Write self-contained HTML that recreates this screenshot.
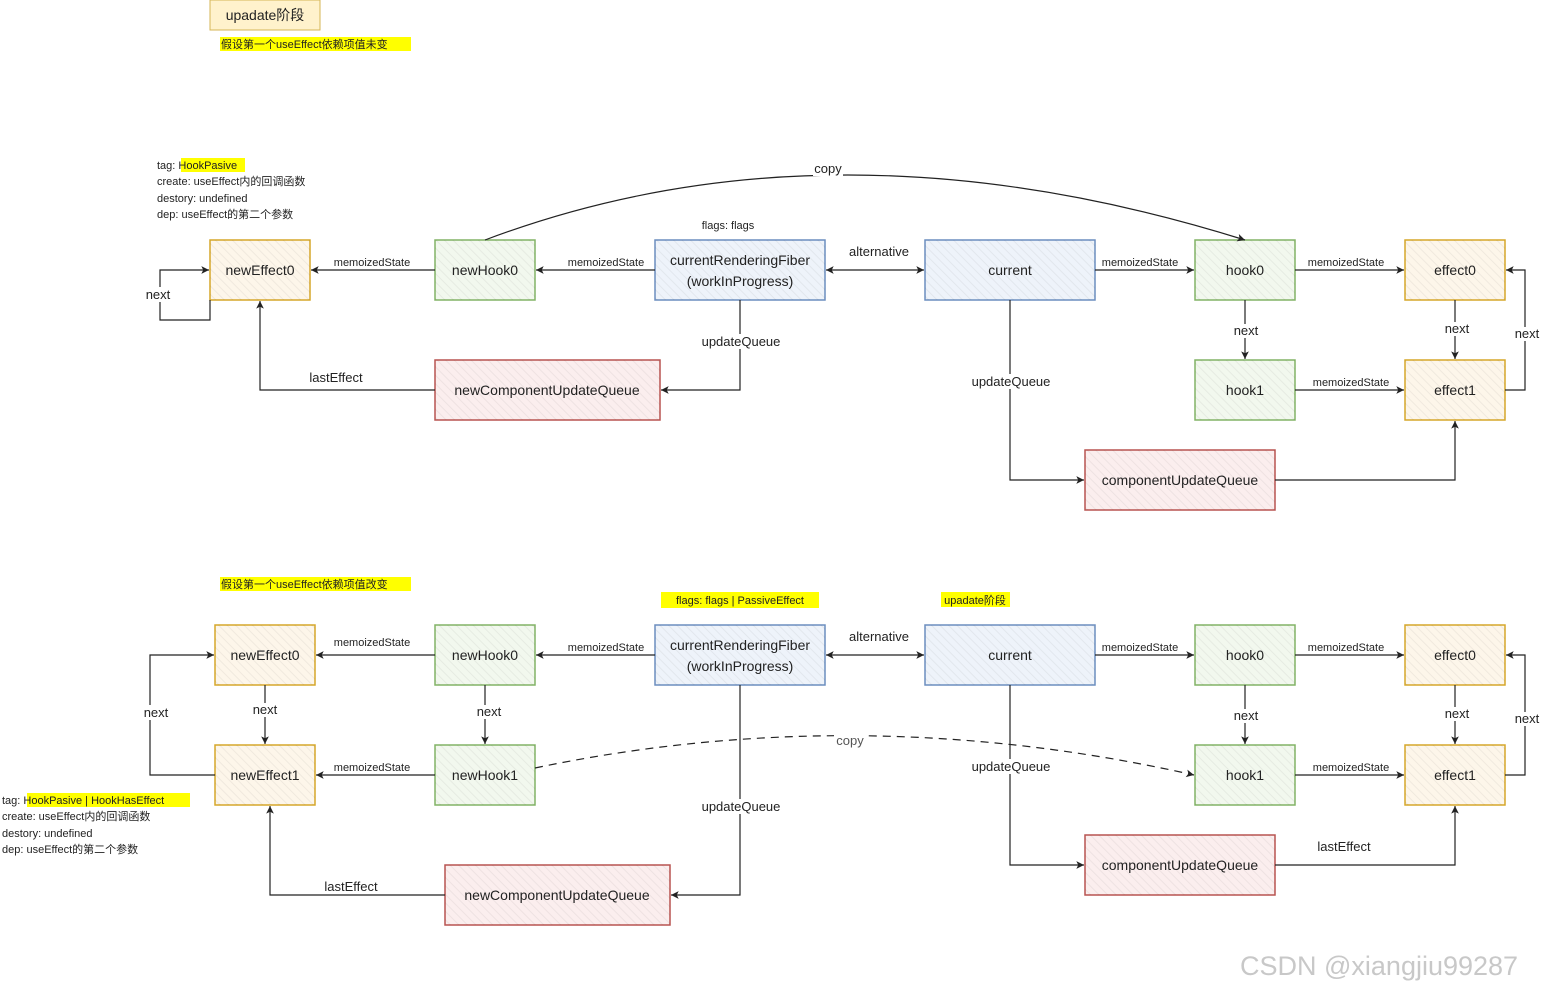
<!DOCTYPE html>
<html><head><meta charset="utf-8"><style>
html,body{margin:0;padding:0;background:#fff;}
svg{display:block;font-family:"Liberation Sans","Noto Sans CJK SC",sans-serif;}
.t{font-size:14px;fill:#222;text-anchor:middle;dominant-baseline:central;}
.s{font-size:11px;fill:#222;text-anchor:middle;}
.n{font-size:13px;fill:#222;text-anchor:middle;}
.note{font-size:11px;fill:#222;}
.l{fill:none;stroke:#222;stroke-width:1.2;}
</style></head><body>
<svg width="1542" height="991" viewBox="0 0 1542 991" xmlns="http://www.w3.org/2000/svg">
<defs>
<marker id="a" viewBox="0 0 10 10" refX="9" refY="5" markerWidth="8" markerHeight="8" orient="auto-start-reverse"><path d="M1,1 L9,5 L1,9 L3,5 Z" fill="#222"/></marker>
<pattern id="h" width="6" height="6" patternUnits="userSpaceOnUse" patternTransform="rotate(-45)"><line x1="0" y1="0" x2="0" y2="6" stroke="#000" stroke-opacity="0.05" stroke-width="2"/></pattern>
</defs>
<style>
.y{fill:#fdf6ea;stroke:#d6a72a;stroke-width:1.5}
.g{fill:#f2f8ee;stroke:#82b366;stroke-width:1.5}
.b{fill:#eef3fa;stroke:#6c8ebf;stroke-width:1.5}
.r{fill:#fbeeee;stroke:#b85450;stroke-width:1.5}
</style>

<!-- header -->
<rect x="210" y="0" width="110" height="30" fill="#fff2cc" stroke="#d6b656"/>
<text x="265" y="15" class="t">upadate阶段</text>
<rect x="220" y="37" width="191" height="14" fill="#ffff00"/>
<text x="221" y="48" class="note" style="font-size:11px">假设第一个useEffect依赖项值未变</text>

<!-- top note -->
<rect x="181" y="158" width="64" height="14" fill="#ffff00"/>
<text x="157" y="169" class="note">tag: HookPasive</text>
<text x="157" y="185" class="note">create: useEffect内的回调函数</text>
<text x="157" y="202" class="note">destory: undefined</text>
<text x="157" y="218" class="note">dep: useEffect的第二个参数</text>
<text x="728" y="229" class="s">flags: flags</text>

<!-- TOP boxes -->
<rect x="210" y="240" width="100" height="60" class="y"/><rect x="210" y="240" width="100" height="60" fill="url(#h)"/><text x="260" y="270" class="t">newEffect0</text>
<rect x="435" y="240" width="100" height="60" class="g"/><rect x="435" y="240" width="100" height="60" fill="url(#h)"/><text x="485" y="270" class="t">newHook0</text>
<rect x="655" y="240" width="170" height="60" class="b"/><rect x="655" y="240" width="170" height="60" fill="url(#h)"/><text x="740" y="260" class="t">currentRenderingFiber</text><text x="740" y="281" class="t">(workInProgress)</text>
<rect x="925" y="240" width="170" height="60" class="b"/><rect x="925" y="240" width="170" height="60" fill="url(#h)"/><text x="1010" y="270" class="t">current</text>
<rect x="1195" y="240" width="100" height="60" class="g"/><rect x="1195" y="240" width="100" height="60" fill="url(#h)"/><text x="1245" y="270" class="t">hook0</text>
<rect x="1405" y="240" width="100" height="60" class="y"/><rect x="1405" y="240" width="100" height="60" fill="url(#h)"/><text x="1455" y="270" class="t">effect0</text>
<rect x="1195" y="360" width="100" height="60" class="g"/><rect x="1195" y="360" width="100" height="60" fill="url(#h)"/><text x="1245" y="390" class="t">hook1</text>
<rect x="1405" y="360" width="100" height="60" class="y"/><rect x="1405" y="360" width="100" height="60" fill="url(#h)"/><text x="1455" y="390" class="t">effect1</text>
<rect x="435" y="360" width="225" height="60" class="r"/><rect x="435" y="360" width="225" height="60" fill="url(#h)"/><text x="547" y="390" class="t">newComponentUpdateQueue</text>
<rect x="1085" y="450" width="190" height="60" class="r"/><rect x="1085" y="450" width="190" height="60" fill="url(#h)"/><text x="1180" y="480" class="t">componentUpdateQueue</text>

<!-- TOP connectors -->
<path d="M485,240 Q830,110 1245,240" class="l" marker-end="url(#a)"/>
<rect x="813" y="162" width="30" height="14" fill="#fff"/><text x="828" y="173" class="n">copy</text>
<path d="M435,270 L311,270" class="l" marker-end="url(#a)"/><text x="372" y="266" class="s">memoizedState</text>
<path d="M655,270 L536,270" class="l" marker-end="url(#a)"/><text x="606" y="266" class="s">memoizedState</text>
<path d="M210,300 L210,320 L160,320 L160,270 L209,270" class="l" marker-end="url(#a)"/>
<rect x="143" y="287" width="32" height="15" fill="#fff"/><text x="158" y="299" class="n">next</text>
<path d="M826,270 L924,270" class="l" marker-start="url(#a)" marker-end="url(#a)"/><text x="879" y="256" class="n">alternative</text>
<path d="M740,300 L740,390 L661,390" class="l" marker-end="url(#a)"/>
<rect x="697" y="334" width="88" height="15" fill="#fff"/><text x="741" y="346" class="n">updateQueue</text>
<path d="M435,390 L260,390 L260,301" class="l" marker-end="url(#a)"/><text x="336" y="382" class="n">lastEffect</text>
<path d="M1095,270 L1194,270" class="l" marker-end="url(#a)"/><text x="1140" y="266" class="s">memoizedState</text>
<path d="M1295,270 L1404,270" class="l" marker-end="url(#a)"/><text x="1346" y="266" class="s">memoizedState</text>
<path d="M1295,390 L1404,390" class="l" marker-end="url(#a)"/><text x="1351" y="386" class="s">memoizedState</text>
<path d="M1245,300 L1245,359" class="l" marker-end="url(#a)"/><rect x="1230" y="324" width="32" height="14" fill="#fff"/><text x="1246" y="335" class="n">next</text>
<path d="M1455,300 L1455,359" class="l" marker-end="url(#a)"/><rect x="1440" y="322" width="32" height="14" fill="#fff"/><text x="1457" y="333" class="n">next</text>
<path d="M1505,390 L1525,390 L1525,270 L1506,270" class="l" marker-end="url(#a)"/><rect x="1512" y="327" width="30" height="14" fill="#fff"/><text x="1527" y="338" class="n">next</text>
<path d="M1010,300 L1010,480 L1084,480" class="l" marker-end="url(#a)"/>
<rect x="966" y="374" width="90" height="15" fill="#fff"/><text x="1011" y="386" class="n">updateQueue</text>
<path d="M1275,480 L1455,480 L1455,421" class="l" marker-end="url(#a)"/>

<!-- BOTTOM headers -->
<rect x="220" y="577" width="191" height="14" fill="#ffff00"/>
<text x="221" y="588" class="note">假设第一个useEffect依赖项值改变</text>
<rect x="661" y="592" width="158" height="16" fill="#ffff00"/>
<text x="740" y="604" class="s">flags: flags | PassiveEffect</text>
<rect x="941" y="592" width="69" height="15" fill="#ffff00"/>
<text x="975" y="604" class="s">upadate阶段</text>

<!-- bottom note -->
<rect x="27" y="793" width="163" height="14" fill="#ffff00"/>
<text x="2" y="804" class="note">tag: HookPasive | HookHasEffect</text>
<text x="2" y="820" class="note">create: useEffect内的回调函数</text>
<text x="2" y="837" class="note">destory: undefined</text>
<text x="2" y="853" class="note">dep: useEffect的第二个参数</text>

<!-- BOTTOM boxes -->
<rect x="215" y="625" width="100" height="60" class="y"/><rect x="215" y="625" width="100" height="60" fill="url(#h)"/><text x="265" y="655" class="t">newEffect0</text>
<rect x="215" y="745" width="100" height="60" class="y"/><rect x="215" y="745" width="100" height="60" fill="url(#h)"/><text x="265" y="775" class="t">newEffect1</text>
<rect x="435" y="625" width="100" height="60" class="g"/><rect x="435" y="625" width="100" height="60" fill="url(#h)"/><text x="485" y="655" class="t">newHook0</text>
<rect x="435" y="745" width="100" height="60" class="g"/><rect x="435" y="745" width="100" height="60" fill="url(#h)"/><text x="485" y="775" class="t">newHook1</text>
<rect x="655" y="625" width="170" height="60" class="b"/><rect x="655" y="625" width="170" height="60" fill="url(#h)"/><text x="740" y="645" class="t">currentRenderingFiber</text><text x="740" y="666" class="t">(workInProgress)</text>
<rect x="925" y="625" width="170" height="60" class="b"/><rect x="925" y="625" width="170" height="60" fill="url(#h)"/><text x="1010" y="655" class="t">current</text>
<rect x="1195" y="625" width="100" height="60" class="g"/><rect x="1195" y="625" width="100" height="60" fill="url(#h)"/><text x="1245" y="655" class="t">hook0</text>
<rect x="1195" y="745" width="100" height="60" class="g"/><rect x="1195" y="745" width="100" height="60" fill="url(#h)"/><text x="1245" y="775" class="t">hook1</text>
<rect x="1405" y="625" width="100" height="60" class="y"/><rect x="1405" y="625" width="100" height="60" fill="url(#h)"/><text x="1455" y="655" class="t">effect0</text>
<rect x="1405" y="745" width="100" height="60" class="y"/><rect x="1405" y="745" width="100" height="60" fill="url(#h)"/><text x="1455" y="775" class="t">effect1</text>
<rect x="445" y="865" width="225" height="60" class="r"/><rect x="445" y="865" width="225" height="60" fill="url(#h)"/><text x="557" y="895" class="t">newComponentUpdateQueue</text>
<rect x="1085" y="835" width="190" height="60" class="r"/><rect x="1085" y="835" width="190" height="60" fill="url(#h)"/><text x="1180" y="865" class="t">componentUpdateQueue</text>

<!-- BOTTOM connectors -->
<path d="M435,655 L316,655" class="l" marker-end="url(#a)"/><text x="372" y="646" class="s">memoizedState</text>
<path d="M435,775 L316,775" class="l" marker-end="url(#a)"/><text x="372" y="771" class="s">memoizedState</text>
<path d="M655,655 L536,655" class="l" marker-end="url(#a)"/><text x="606" y="651" class="s">memoizedState</text>
<path d="M265,685 L265,744" class="l" marker-end="url(#a)"/><rect x="249" y="703" width="32" height="14" fill="#fff"/><text x="265" y="714" class="n">next</text>
<path d="M485,685 L485,744" class="l" marker-end="url(#a)"/><rect x="470" y="705" width="32" height="14" fill="#fff"/><text x="489" y="716" class="n">next</text>
<path d="M215,775 L150,775 L150,655 L214,655" class="l" marker-end="url(#a)"/><rect x="138" y="705" width="36" height="15" fill="#fff"/><text x="156" y="717" class="n">next</text>
<path d="M826,655 L924,655" class="l" marker-start="url(#a)" marker-end="url(#a)"/><text x="879" y="641" class="n">alternative</text>
<path d="M740,685 L740,895 L671,895" class="l" marker-end="url(#a)"/>
<path d="M535,768 Q860,700 1194,775" class="l" stroke-dasharray="8,6" marker-end="url(#a)"/>
<rect x="834" y="734" width="32" height="14" fill="#fff"/><text x="850" y="745" class="n" style="fill:#555">copy</text>
<rect x="697" y="799" width="88" height="15" fill="#fff"/><text x="741" y="811" class="n">updateQueue</text>
<path d="M445,895 L270,895 L270,806" class="l" marker-end="url(#a)"/><text x="351" y="891" class="n">lastEffect</text>
<path d="M1095,655 L1194,655" class="l" marker-end="url(#a)"/><text x="1140" y="651" class="s">memoizedState</text>
<path d="M1295,655 L1404,655" class="l" marker-end="url(#a)"/><text x="1346" y="651" class="s">memoizedState</text>
<path d="M1295,775 L1404,775" class="l" marker-end="url(#a)"/><text x="1351" y="771" class="s">memoizedState</text>
<path d="M1245,685 L1245,744" class="l" marker-end="url(#a)"/><rect x="1230" y="709" width="32" height="14" fill="#fff"/><text x="1246" y="720" class="n">next</text>
<path d="M1455,685 L1455,744" class="l" marker-end="url(#a)"/><rect x="1440" y="707" width="32" height="14" fill="#fff"/><text x="1457" y="718" class="n">next</text>
<path d="M1505,775 L1525,775 L1525,655 L1506,655" class="l" marker-end="url(#a)"/><rect x="1512" y="712" width="30" height="14" fill="#fff"/><text x="1527" y="723" class="n">next</text>
<path d="M1010,685 L1010,865 L1084,865" class="l" marker-end="url(#a)"/>
<rect x="966" y="759" width="90" height="15" fill="#fff"/><text x="1011" y="771" class="n">updateQueue</text>
<path d="M1275,865 L1455,865 L1455,806" class="l" marker-end="url(#a)"/><text x="1344" y="851" class="n">lastEffect</text>

<text x="1240" y="975" style="font-size:27px;fill:#c8c8c8">CSDN @xiangjiu99287</text>
</svg>
</body></html>
